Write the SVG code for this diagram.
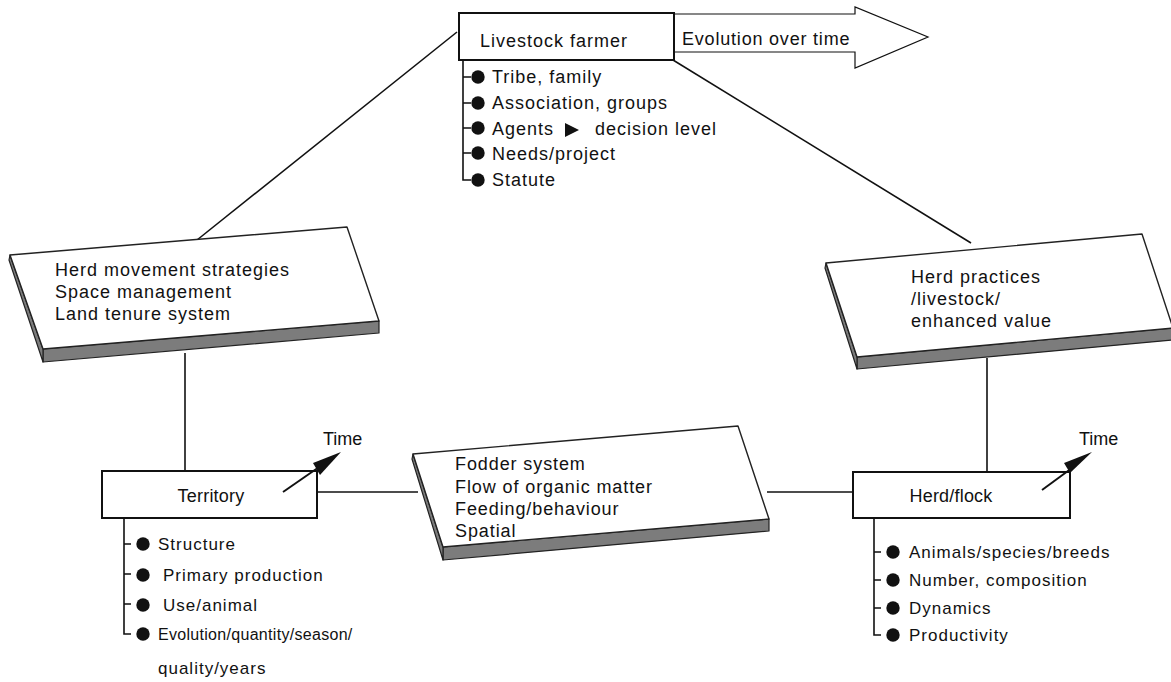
<svg xmlns="http://www.w3.org/2000/svg" width="1171" height="682" viewBox="0 0 1171 682">
<style>
text{font-family:"Liberation Sans",Arial,sans-serif;font-size:18px;fill:#111;letter-spacing:1px}
.ln{stroke:#111;stroke-width:1.6;fill:none}
.box{fill:#fff;stroke:#111;stroke-width:2}
.top{fill:#fff;stroke:#222;stroke-width:1.4;stroke-linejoin:round}
.side{fill:#7c7c7c;stroke:#222;stroke-width:1.2;stroke-linejoin:round}
.dot{fill:#111}
.sm{font-size:17px;letter-spacing:1px}
.lbl{letter-spacing:0.2px}
</style>
<g id="connectors">
<line class="ln" x1="197" y1="240" x2="457" y2="32"/>
<line class="ln" x1="673" y1="60" x2="971" y2="243"/>
<line class="ln" x1="185" y1="353" x2="185" y2="471"/>
<line class="ln" x1="987" y1="358" x2="987" y2="472"/>
<line class="ln" x1="317" y1="492" x2="418" y2="492"/>
<line class="ln" x1="767" y1="492" x2="853" y2="492"/>
</g>
<g id="farmer">
<polygon class="box" points="674,14 855,14 855,7 928,37 855,68 855,52 674,52" style="stroke-width:1.2"/>
<text x="682" y="45" style="letter-spacing:0.8px">Evolution over time</text>
<rect class="box" x="459" y="13" width="215" height="47"/>
<text x="480" y="47">Livestock farmer</text>
<path class="ln" d="M463,60 V180 H471 M463,77 H471 M463,103 H471 M463,128 H471 M463,153 H471"/>
<circle class="dot" cx="478" cy="77" r="6.7"/>
<circle class="dot" cx="478" cy="103" r="6.7"/>
<circle class="dot" cx="478" cy="128" r="6.7"/>
<circle class="dot" cx="478" cy="153" r="6.7"/>
<circle class="dot" cx="478" cy="180" r="6.7"/>
<text x="492" y="83">Tribe, family</text>
<text x="492" y="109">Association, groups</text>
<text x="492" y="135">Agents</text>
<polygon class="dot" points="565,123 579,130 565,137"/>
<text x="595" y="135">decision level</text>
<text x="492" y="160">Needs/project</text>
<text x="492" y="186">Statute</text>
</g>
<g id="herd-movement">
<polygon class="side" points="43,349 379,321 379,333 43,362"/>
<polygon class="side" points="10,255 43,349 43,362 9,260"/>
<polygon class="top" points="10,255 347,227 379,321 43,349"/>
<text x="55" y="276">Herd movement strategies</text>
<text x="55" y="298">Space management</text>
<text x="55" y="320">Land tenure system</text>
</g>
<g id="herd-practices">
<polygon class="side" points="857,357 1173,328 1173,340 857,369"/>
<polygon class="side" points="826,263 857,357 857,369 825,268"/>
<polygon class="top" points="826,263 1142,234 1173,328 857,357"/>
<text x="911" y="283">Herd practices</text>
<text x="911" y="305">/livestock/</text>
<text x="911" y="327">enhanced value</text>
</g>
<g id="fodder">
<polygon class="side" points="443,547 769,519 769,531 443,560"/>
<polygon class="side" points="413,454 443,547 443,560 412,459"/>
<polygon class="top" points="413,454 738,426 769,519 443,547"/>
<text x="455" y="470" style="letter-spacing:0.9px">Fodder system</text>
<text x="455" y="493" style="letter-spacing:0.9px">Flow of organic matter</text>
<text x="455" y="515" style="letter-spacing:0.9px">Feeding/behaviour</text>
<text x="455" y="537" style="letter-spacing:0.9px">Spatial</text>
</g>
<g id="territory">
<rect class="box" x="102" y="471" width="215" height="47"/>
<text class="lbl" x="211" y="502" text-anchor="middle">Territory</text>
<line class="ln" x1="283" y1="492" x2="322" y2="465" style="stroke-width:2"/>
<polygon class="dot" points="341,452 320,475 313,463"/>
<text x="323" y="445" style="letter-spacing:0">Time</text>
<path class="ln" d="M124,518 V634 H131 M124,544 H131 M124,574 H131 M124,604 H131"/>
<circle class="dot" cx="143" cy="544" r="6.7"/>
<circle class="dot" cx="143" cy="575" r="6.7"/>
<circle class="dot" cx="143" cy="605" r="6.7"/>
<circle class="dot" cx="143" cy="634" r="6.7"/>
<text class="sm" x="158" y="550">Structure</text>
<text class="sm" x="163" y="581">Primary production</text>
<text class="sm" x="163" y="611">Use/animal</text>
<text x="158" y="640" style="font-size:16px;letter-spacing:0.3px">Evolution/quantity/season/</text>
<text class="sm" x="158" y="674">quality/years</text>
</g>
<g id="herd-flock">
<rect class="box" x="853" y="472" width="217" height="46"/>
<text class="lbl" x="951" y="502" text-anchor="middle">Herd/flock</text>
<line class="ln" x1="1042" y1="490" x2="1072" y2="468" style="stroke-width:2"/>
<polygon class="dot" points="1092,452 1070,473 1064,463"/>
<text x="1079" y="445" style="letter-spacing:0">Time</text>
<path class="ln" d="M874,518 V635 H881 M874,552 H881 M874,580 H881 M874,608 H881"/>
<circle class="dot" cx="893" cy="552" r="6.7"/>
<circle class="dot" cx="893" cy="580" r="6.7"/>
<circle class="dot" cx="893" cy="608" r="6.7"/>
<circle class="dot" cx="893" cy="635" r="6.7"/>
<text class="sm" x="909" y="558">Animals/species/breeds</text>
<text class="sm" x="909" y="586">Number, composition</text>
<text class="sm" x="909" y="614">Dynamics</text>
<text class="sm" x="909" y="641">Productivity</text>
</g>
</svg>
